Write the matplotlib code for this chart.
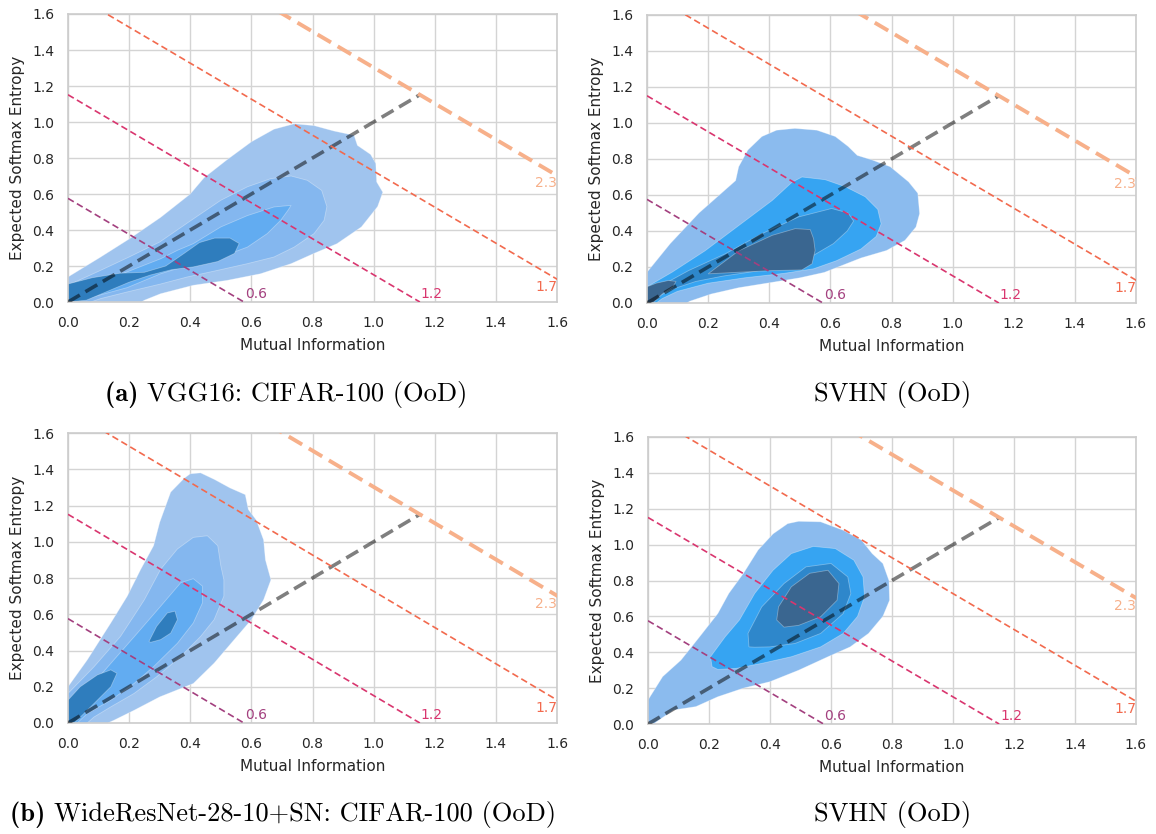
import numpy as np
import matplotlib
matplotlib.use("Agg")
import matplotlib.pyplot as plt

# ---------------- data ----------------
TICKS = [0.0, 0.2, 0.4, 0.6, 0.8, 1.0, 1.2, 1.4, 1.6]
ISO_LEVELS = [0.5756, 1.1513, 1.7269, 2.3026]   # ln(100) * [1/8, 1/4, 3/8, 1/2]
ISO_LABELS = ["0.6", "1.2", "1.7", "2.3"]
DIAG_END = 1.1513

CAPTIONS_BOLD = ["(a)", "", "(b)", ""]
CAPTIONS_TEXT = ["VGG16: CIFAR-100 (OoD)", "SVHN (OoD)",
                 "WideResNet-28-10+SN: CIFAR-100 (OoD)", "SVHN (OoD)"]

# --- panel (a) left: VGG16 CIFAR-100 density contours (MI, entropy outlines)
TL_L1_MI = [0, 0, 0.107, 0.20, 0.303, 0.40, 0.445, 0.52, 0.60, 0.674, 0.74, 0.805, 0.87, 0.936,
            0.947, 0.99, 1.007, 1.01, 1.03, 1.013, 0.96, 0.88, 0.805, 0.73, 0.63, 0.52, 0.41, 0.303,
            0.25, 0.24]
TL_L1_ENT = [0, 0.139, 0.25, 0.35, 0.47, 0.60, 0.69, 0.79, 0.89, 0.96, 0.99, 0.98, 0.95, 0.926,
             0.87, 0.82, 0.77, 0.667, 0.61, 0.53, 0.417, 0.324, 0.27, 0.213, 0.157, 0.12, 0.093, 0.046,
             0.01, 0]
TL_L2_MI = [0, 0, 0.107, 0.20, 0.30, 0.40, 0.50, 0.587, 0.663, 0.73, 0.783, 0.83, 0.847, 0.838,
            0.805, 0.74, 0.674, 0.587, 0.49, 0.39, 0.303, 0.194, 0.107, 0.074]
TL_L2_ENT = [0, 0.093, 0.176, 0.25, 0.333, 0.45, 0.565, 0.64, 0.685, 0.70, 0.676, 0.62, 0.53, 0.454,
             0.38, 0.305, 0.25, 0.213, 0.176, 0.139, 0.10, 0.056, 0.019, 0]
TL_L3_MI = [0, 0, 0.085, 0.178, 0.303, 0.358, 0.41, 0.50, 0.587, 0.674, 0.73, 0.72, 0.696, 0.652,
            0.587, 0.50, 0.41, 0.303, 0.194, 0.107, 0.04, 0.02]
TL_L3_ENT = [0, 0.065, 0.12, 0.157, 0.24, 0.287, 0.324, 0.417, 0.48, 0.528, 0.537, 0.51, 0.454, 0.38,
             0.305, 0.25, 0.213, 0.157, 0.08, 0.04, 0.01, 0]
TL_L4_MI = [0, 0, 0.08, 0.17, 0.25, 0.32, 0.38, 0.43, 0.48, 0.53, 0.56, 0.545, 0.49, 0.41, 0.34,
            0.27, 0.2, 0.13, 0.06]
TL_L4_ENT = [0, 0.10, 0.135, 0.16, 0.165, 0.20, 0.27, 0.33, 0.355, 0.355, 0.325, 0.27, 0.225, 0.195,
             0.18, 0.15, 0.11, 0.06, 0.01]

# --- panel (a) right: VGG16 SVHN
TR_L1_MI = [0, 0, 0.076, 0.17, 0.23, 0.29, 0.30, 0.33, 0.376, 0.424, 0.484, 0.556, 0.616, 0.658,
            0.688, 0.736, 0.796, 0.856, 0.886, 0.892, 0.88, 0.844, 0.784, 0.70, 0.64, 0.58, 0.50,
            0.41, 0.30, 0.21, 0.14, 0.13]
TR_L1_ENT = [0, 0.171, 0.33, 0.50, 0.59, 0.68, 0.757, 0.85, 0.925, 0.96, 0.97, 0.96, 0.925, 0.87,
             0.82, 0.795, 0.757, 0.673, 0.61, 0.497, 0.422, 0.348, 0.292, 0.25, 0.21, 0.17, 0.14,
             0.115, 0.085, 0.05, 0.01, 0]
TR_L2_MI = [0, 0, 0.082, 0.19, 0.30, 0.41, 0.474, 0.507, 0.583, 0.649, 0.714, 0.755, 0.766, 0.75,
            0.70, 0.62, 0.545, 0.45, 0.32, 0.20, 0.10, 0.05, 0.03]
TR_L2_ENT = [0, 0.09, 0.171, 0.29, 0.43, 0.57, 0.67, 0.70, 0.685, 0.646, 0.59, 0.52, 0.44, 0.37,
             0.30, 0.235, 0.19, 0.165, 0.14, 0.11, 0.065, 0.025, 0]
TR_L3_MI = [0, 0, 0.05, 0.136, 0.256, 0.376, 0.496, 0.604, 0.658, 0.676, 0.655, 0.61, 0.54, 0.45,
            0.35, 0.25, 0.16, 0.08, 0.03, 0.01]
TR_L3_ENT = [0, 0.05, 0.10, 0.18, 0.273, 0.385, 0.478, 0.525, 0.50, 0.455, 0.40, 0.33, 0.26, 0.21,
             0.175, 0.15, 0.12, 0.075, 0.03, 0]
TR_L4_MI = [0.2, 0.30, 0.41, 0.485, 0.534, 0.545, 0.55, 0.54, 0.507, 0.409, 0.30]
TR_L4_ENT = [0.162, 0.29, 0.376, 0.413, 0.408, 0.357, 0.292, 0.218, 0.184, 0.18, 0.171]
TR_L4B_MI = [0, 0, 0.03, 0.07, 0.095, 0.085, 0.05, 0.02]
TR_L4B_ENT = [0.0, 0.09, 0.11, 0.125, 0.12, 0.09, 0.05, 0.0]

# --- panel (b) left: WideResNet CIFAR-100
BL_L1_MI = [0, 0, 0.063, 0.14, 0.194, 0.238, 0.28, 0.30, 0.336, 0.38, 0.40, 0.434, 0.48, 0.53,
            0.58, 0.59, 0.616, 0.64, 0.646, 0.664, 0.64, 0.60, 0.544, 0.478, 0.41, 0.30, 0.216,
            0.15, 0.13]
BL_L1_ENT = [0, 0.2, 0.348, 0.552, 0.70, 0.848, 0.978, 1.107, 1.274, 1.35, 1.375, 1.38, 1.343, 1.297,
             1.26, 1.178, 1.12, 1.01, 0.90, 0.79, 0.68, 0.57, 0.46, 0.33, 0.218, 0.144, 0.07,
             0.015, 0]
BL_L2_MI = [0, 0, 0.085, 0.172, 0.25, 0.303, 0.358, 0.41, 0.456, 0.49, 0.50, 0.51, 0.51, 0.478,
            0.434, 0.369, 0.29, 0.216, 0.14, 0.085, 0.063]
BL_L2_ENT = [0, 0.163, 0.31, 0.478, 0.68, 0.848, 0.96, 1.024, 1.033, 0.978, 0.867, 0.79, 0.70, 0.57,
             0.478, 0.367, 0.255, 0.163, 0.089, 0.033, 0]
BL_L3_MI = [0, 0, 0.063, 0.15, 0.227, 0.303, 0.369, 0.41, 0.44, 0.44, 0.41, 0.358, 0.28, 0.216,
            0.14, 0.063, 0.03]
BL_L3_ENT = [0, 0.089, 0.18, 0.348, 0.496, 0.644, 0.774, 0.796, 0.755, 0.663, 0.552, 0.44, 0.311,
             0.218, 0.126, 0.052, 0]
BL_L4_MI = [0.265, 0.29, 0.325, 0.35, 0.358, 0.336, 0.303, 0.27]
BL_L4_ENT = [0.45, 0.533, 0.607, 0.617, 0.57, 0.496, 0.46, 0.445]
BL_L4B_MI = [0, 0, 0.04, 0.096, 0.14, 0.16, 0.14, 0.096, 0.052, 0.02]
BL_L4B_ENT = [0, 0.126, 0.2, 0.265, 0.293, 0.274, 0.2, 0.126, 0.052, 0]

# --- panel (b) right: WideResNet SVHN
BR_L1_MI = [0, 0, 0.048, 0.108, 0.169, 0.229, 0.265, 0.313, 0.361, 0.41, 0.458, 0.494, 0.566,
            0.64, 0.70, 0.735, 0.77, 0.79, 0.792, 0.77, 0.723, 0.663, 0.59, 0.494, 0.40, 0.313,
            0.229, 0.157, 0.084, 0.036, 0.018]
BR_L1_ENT = [0, 0.134, 0.264, 0.356, 0.486, 0.616, 0.728, 0.84, 0.97, 1.06, 1.117, 1.13, 1.127,
             1.08, 1.025, 0.95, 0.895, 0.80, 0.69, 0.60, 0.505, 0.43, 0.375, 0.30, 0.236, 0.2,
             0.152, 0.097, 0.078, 0.022, 0]
BR_L2_MI = [0.21, 0.205, 0.253, 0.30, 0.35, 0.41, 0.47, 0.542, 0.614, 0.675, 0.705, 0.71, 0.687,
            0.64, 0.566, 0.47, 0.373, 0.289, 0.229]
BR_L2_ENT = [0.32, 0.375, 0.486, 0.58, 0.728, 0.857, 0.95, 0.99, 0.978, 0.913, 0.82, 0.71, 0.60,
             0.505, 0.43, 0.375, 0.338, 0.31, 0.304]
BR_L3_MI = [0.331, 0.328, 0.373, 0.446, 0.518, 0.60, 0.655, 0.665, 0.64, 0.566, 0.482, 0.40, 0.35]
BR_L3_ENT = [0.43, 0.505, 0.653, 0.783, 0.876, 0.895, 0.82, 0.728, 0.616, 0.505, 0.449, 0.43, 0.428]
BR_L4_MI = [0.422, 0.428, 0.47, 0.53, 0.59, 0.626, 0.62, 0.566, 0.494, 0.446]
BR_L4_ENT = [0.58, 0.653, 0.765, 0.84, 0.857, 0.783, 0.69, 0.598, 0.55, 0.54]

PAL_CIFAR = ["#a0c4ee", "#84b7ef", "#62acf1", "#2f7dbd"]
PAL_SVHN = ["#8bbbee", "#36a4f2", "#2e87cb", "#3a6690"]
ISO_COLORS = ["#a3407f", "#d9366f", "#f26a4e", "#f7b08a"]
ISO_WIDTHS = [1.2, 1.2, 1.2, 2.8]

panels = [
    ([(TL_L1_MI, TL_L1_ENT, 0), (TL_L2_MI, TL_L2_ENT, 1), (TL_L3_MI, TL_L3_ENT, 2),
      (TL_L4_MI, TL_L4_ENT, 3)], PAL_CIFAR),
    ([(TR_L1_MI, TR_L1_ENT, 0), (TR_L2_MI, TR_L2_ENT, 1), (TR_L3_MI, TR_L3_ENT, 2),
      (TR_L4_MI, TR_L4_ENT, 3), (TR_L4B_MI, TR_L4B_ENT, 3)], PAL_SVHN),
    ([(BL_L1_MI, BL_L1_ENT, 0), (BL_L2_MI, BL_L2_ENT, 1), (BL_L3_MI, BL_L3_ENT, 2),
      (BL_L4_MI, BL_L4_ENT, 3), (BL_L4B_MI, BL_L4B_ENT, 3)], PAL_CIFAR),
    ([(BR_L1_MI, BR_L1_ENT, 0), (BR_L2_MI, BR_L2_ENT, 1), (BR_L3_MI, BR_L3_ENT, 2),
      (BR_L4_MI, BR_L4_ENT, 3)], PAL_SVHN),
]

# ---------------- figure ----------------
plt.rcParams['font.family'] = ['DejaVu Sans']
fig = plt.figure(figsize=(11.56, 8.34), dpi=100)

W, H = 1156, 834
axes_px = [(68, 14, 557, 302), (647, 15, 1136, 303), (68, 433, 557, 723), (648, 437, 1136, 724)]
caption_pos = [(286, 395), (893, 395), (283, 815), (893, 815)]

TEXT_COL = "#262626"
GRID_COL = "#d4d4d4"

for i, (polys, pal) in enumerate(panels):
    x0, y0, x1, y1 = axes_px[i]
    ax = fig.add_axes([x0 / W, 1 - y1 / H, (x1 - x0) / W, (y1 - y0) / H])
    ax.set_axisbelow(True)
    ax.grid(True, color=GRID_COL, lw=1.0)
    for s in ax.spines.values():
        s.set_color("#cccccc")
        s.set_linewidth(1.2)
    for mi, ent, lev in polys:
        ax.fill(mi, ent, color=pal[lev], lw=0.6, edgecolor="#ffffff55", zorder=2)
    # iso total-entropy lines
    for lvl, lab, col, lw in zip(ISO_LEVELS, ISO_LABELS, ISO_COLORS, ISO_WIDTHS):
        ax.plot([0, lvl], [lvl, 0], color=col, lw=lw,
                ls=(0, (4, 2.2)) if lw < 2 else (0, (4, 2)), zorder=4)
        if lvl < 1.6:
            ax.text(lvl + 0.003, 0.008, lab, color=col, fontsize=10, ha="left", va="bottom", zorder=5)
        else:
            ax.text(1.6, lvl - 1.6 - 0.005, lab, color=col, fontsize=10, ha="right", va="top", zorder=5)
    ax.plot([0, DIAG_END], [0, DIAG_END], color="black", alpha=0.5, lw=2.6,
            ls=(0, (3.8, 1.8)), zorder=3)
    ax.set_xlim(0, 1.6)
    ax.set_ylim(0, 1.6)
    ax.set_xticks(TICKS)
    ax.set_yticks(TICKS)
    ax.set_xticklabels([f"{t:.1f}" for t in TICKS])
    ax.set_yticklabels([f"{t:.1f}" for t in TICKS])
    ax.tick_params(length=0, pad=10, labelsize=10, colors=TEXT_COL)
    ax.set_xlabel("Mutual Information", fontsize=11, color=TEXT_COL, labelpad=6)
    ax.set_ylabel("Expected Softmax Entropy", fontsize=11, color=TEXT_COL, labelpad=5)

    cx, cy = caption_pos[i]
    if CAPTIONS_BOLD[i]:
        t1 = fig.text(0, 0, CAPTIONS_BOLD[i] + " ", fontfamily="cmb10", fontsize=19)
        t2 = fig.text(0, 0, CAPTIONS_TEXT[i], fontfamily="cmr10", fontsize=19)
        fig.canvas.draw()
        r = fig.canvas.get_renderer()
        w1 = t1.get_window_extent(r).width
        w2 = t2.get_window_extent(r).width
        left = cx - (w1 + w2) / 2
        t1.set_position((left / W, 1 - cy / H))
        t1.set_va("center")
        t2.set_position(((left + w1) / W, 1 - cy / H))
        t2.set_va("center")
    else:
        fig.text(cx / W, 1 - cy / H, CAPTIONS_TEXT[i], fontfamily="cmr10", fontsize=19,
                 ha="center", va="center")

fig.savefig("out.png", dpi=100)
